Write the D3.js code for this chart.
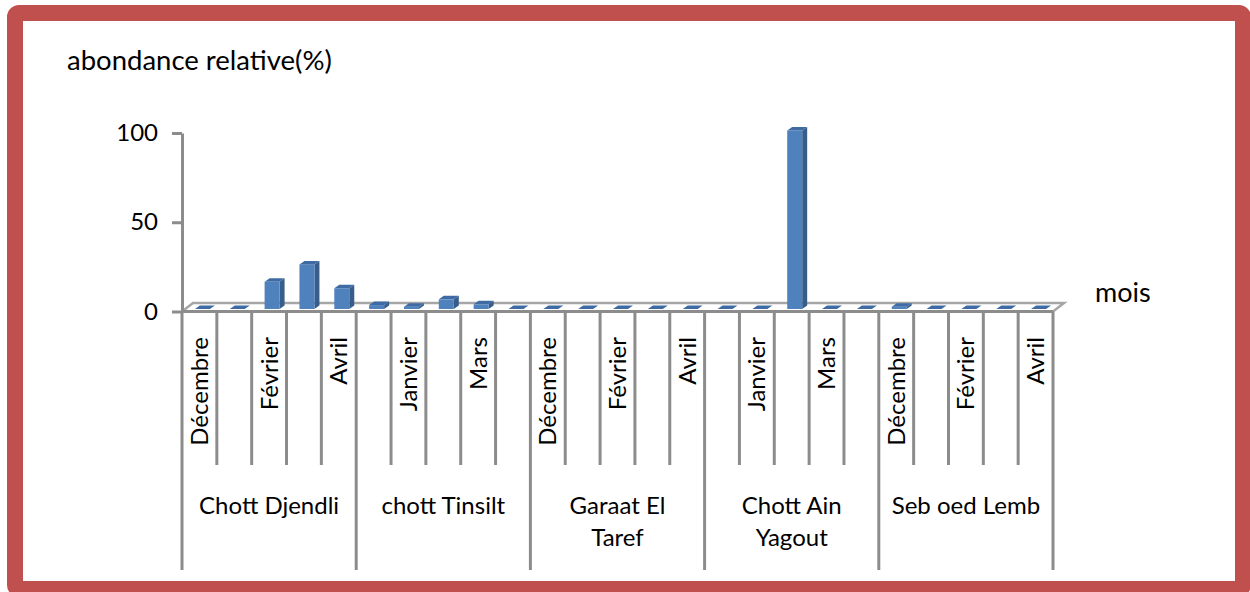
<!DOCTYPE html>
<html>
<head>
<meta charset="utf-8">
<script src="https://cdn.jsdelivr.net/npm/d3@7"></script>
<style>
  body { margin: 0; background: #fff; }
  svg { display: block; font-family: Lato, "Open Sans", sans-serif; }
</style>
</head>
<body>
<svg id="chart" width="1250" height="592"></svg>
<script>
// Données
var sites = ["Chott Djendli", "chott Tinsilt", "Garaat El\nTaref", "Chott Ain\nYagout", "Seb oed Lemb"];
var mois = ["Décembre", "Janvier", "Février", "Mars", "Avril"];
var chottDjendli = [0, 0, 15.2, 25, 11.6];
var chottTinsilt = [2.2, 1.3, 5.4, 2.6, 0];
var garaatElTaref = [0, 0, 0, 0, 0];
var chottAinYagout = [0, 0, 100, 0, 0];
var sebOedLemb = [1.3, 0, 0, 0, 0];
var yTicks = [0, 50, 100];

var series = [chottDjendli, chottTinsilt, garaatElTaref, chottAinYagout, sebOedLemb];

// une ligne par barre (site x mois)
var rows = [];
sites.forEach(function (s, si) {
  mois.forEach(function (m, mi) {
    rows.push({ i: si * mois.length + mi, site: s, mois: m, v: series[si][mi] });
  });
});

var svg = d3.select("#chart");
var grey = "#8c8c8c";

var x = d3.scaleBand()
  .domain(d3.range(rows.length))
  .range([182, 1053]);
var y = d3.scaleLinear()
  .domain([0, 100])
  .range([311.5, 133]);

var bw = x.bandwidth();
var xEnd = x.range()[1];
var y0 = y(0);

// profondeur 3D du plancher et des barres
var floorDx = 11, floorDy = -8.5;
var planDx = 3, planDy = -2.5;
var barDx = 5, barDy = -3.5;
var barW = bw * 0.43;

// cadre rouge
svg.append("rect")
  .attr("x", 15).attr("y", 13)
  .attr("width", 1228).attr("height", 576)
  .attr("rx", 4)
  .attr("fill", "none")
  .attr("stroke", "#C0504D")
  .attr("stroke-width", 16);

// plancher
var fx0 = x.range()[0];
svg.append("polygon")
  .attr("points", [[fx0, y0], [xEnd, y0], [xEnd + floorDx, y0 + floorDy], [fx0 + floorDx, y0 + floorDy]].join(" "))
  .attr("fill", "#fff")
  .attr("stroke", "#a6a6a6")
  .attr("stroke-width", 2.5);
svg.append("line")
  .attr("x1", fx0).attr("x2", xEnd)
  .attr("y1", y0).attr("y2", y0)
  .attr("stroke", grey).attr("stroke-width", 3);

// axe des valeurs
var yAxis = svg.append("g")
  .attr("transform", "translate(" + fx0 + ",0)")
  .call(d3.axisLeft(y).tickValues(yTicks).tickSize(10).tickSizeOuter(0).tickPadding(14));
yAxis.select(".domain").attr("stroke", grey).attr("stroke-width", 3);
yAxis.selectAll(".tick line").attr("stroke", grey).attr("stroke-width", 3);
yAxis.selectAll(".tick text")
  .attr("font-size", 24)
  .attr("font-family", "Lato, sans-serif")
  .attr("fill", "#000");

// séparateurs de catégories
var bounds = d3.range(rows.length + 1);
svg.append("g").selectAll("line")
  .data(bounds)
  .enter().append("line")
  .attr("x1", function (d) { return d < rows.length ? x(d) : xEnd; })
  .attr("x2", function (d) { return d < rows.length ? x(d) : xEnd; })
  .attr("y1", y0)
  .attr("y2", function (d) { return d % mois.length === 0 ? 570 : 465; })
  .attr("stroke", grey)
  .attr("stroke-width", 3);

// barres 3D
var bars = svg.append("g").selectAll("g")
  .data(rows)
  .enter().append("g");

var bx = function (d) { return x(d.i) + bw / 2 - barW / 2 + planDx; };
var by = function (d) { return y(d.v) + planDy; };
var bb = y0 + planDy;

bars.append("polygon")
  .attr("points", function (d) {
    var l = bx(d) + barW, t = by(d);
    return [[l, t], [l + barDx, t + barDy], [l + barDx, bb + barDy], [l, bb]].join(" ");
  })
  .attr("fill", "#385D8A");

bars.append("rect")
  .attr("x", bx)
  .attr("y", by)
  .attr("width", barW)
  .attr("height", function (d) { return bb - by(d); })
  .attr("fill", "#4F81BD");

bars.append("polygon")
  .attr("points", function (d) {
    var l = bx(d), t = by(d);
    return [[l, t], [l + barW, t], [l + barW + barDx, t + barDy], [l + barDx, t + barDy]].join(" ");
  })
  .attr("fill", "#3E6BA3");

// étiquettes des mois (une sur deux, comme Excel)
svg.append("g").selectAll("text")
  .data(rows.filter(function (d) { return d.i % 2 === 0; }))
  .enter().append("text")
  .attr("transform", function (d) {
    return "translate(" + (x(d.i) + bw / 2) + ",337) rotate(-90)";
  })
  .attr("text-anchor", "end")
  .attr("dy", "0.35em")
  .attr("font-size", 24)
  .text(function (d) { return d.mois; });

// étiquettes des sites
var siteLabels = svg.append("g").selectAll("text")
  .data(sites)
  .enter().append("text")
  .attr("text-anchor", "middle")
  .attr("font-size", 24)
  .attr("y", 514);

siteLabels.selectAll("tspan")
  .data(function (s, si) {
    var cx = x(si * mois.length) + bw * mois.length / 2;
    return s.split("\n").map(function (t, k) { return { t: t, k: k, cx: cx }; });
  })
  .enter().append("tspan")
  .attr("x", function (d) { return d.cx; })
  .attr("dy", function (d) { return d.k === 0 ? 0 : 32; })
  .text(function (d) { return d.t; });

// titres
svg.append("text")
  .attr("x", 67).attr("y", 70)
  .attr("font-size", 27.5)
  .text("abondance relative(%)");

svg.append("text")
  .attr("x", 1095).attr("y", 302)
  .attr("font-size", 27)
  .text("mois");
</script>
</body>
</html>
